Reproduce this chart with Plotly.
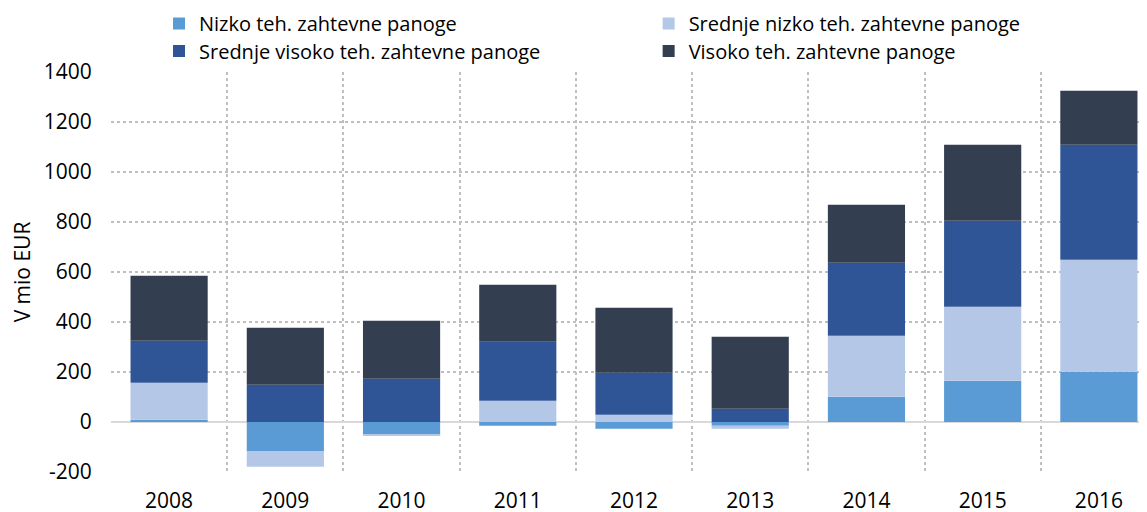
import plotly.graph_objects as go

years = ["2008", "2009", "2010", "2011", "2012", "2013", "2014", "2015", "2016"]
nizko = [9, -118, -51, -15, -27, -15, 101, 165, 201]
srednje_nizko = [148, -61, -4, 85, 29, -12, 244, 296, 448]
srednje_visoko = [168, 149, 173, 236, 168, 53, 292, 344, 460]
visoko = [260, 228, 232, 228, 260, 288, 232, 304, 216]

y_tickvals = [-200, 0, 200, 400, 600, 800, 1000, 1200, 1400]
y_ticktext = ["-200", "0", "200", "400", "600", "800", "1000", "1200", "1400"]

names = ["Nizko teh. zahtevne panoge", "Srednje nizko teh. zahtevne panoge",
         "Srednje visoko teh. zahtevne panoge", "Visoko teh. zahtevne panoge"]
colors = ["#5B9BD5", "#B4C7E7", "#2F5597", "#333F50"]
legends = ["legend", "legend2", "legend3", "legend4"]
series = [nizko, srednje_nizko, srednje_visoko, visoko]

FONT = "Open Sans, Lato, DejaVu Sans, sans-serif"

fig = go.Figure()
for name, vals, col, lg in zip(names, series, colors, legends):
    fig.add_trace(go.Bar(x=years, y=vals, name=name, marker=dict(color=col, line=dict(width=0)),
                         legend=lg, showlegend=True))

leg_common = dict(yref="container", xanchor="left", yanchor="middle", orientation="v",
                  font=dict(size=20), bgcolor="rgba(0,0,0,0)", itemwidth=30)
col1_x, col2_x = 0.0459, 0.514
row1_y, row2_y = 0.9697, 0.916

fig.update_layout(
    showlegend=True,
    barmode="relative",
    bargap=0.336,
    width=1153, height=512,
    margin=dict(l=103, r=4, t=64, b=48, autoexpand=False),
    plot_bgcolor="white", paper_bgcolor="white",
    font=dict(family=FONT, size=21, color="#000000"),
    legend=dict(x=col1_x, y=row1_y, **leg_common),
    legend2=dict(x=col2_x, y=row1_y, **leg_common),
    legend3=dict(x=col1_x, y=row2_y, **leg_common),
    legend4=dict(x=col2_x, y=row2_y, **leg_common),
    xaxis=dict(type="category", tickson="boundaries", showgrid=True, gridcolor="#BFBFBF",
               gridwidth=1.5, griddash="3px,3px", ticks="outside", ticklen=24,
               ticklabelstandoff=14,
               tickcolor="rgba(0,0,0,0)", showline=False, tickfont=dict(size=21)),
    yaxis=dict(range=[-200, 1400], tickvals=y_tickvals, ticktext=y_ticktext,
               showgrid=True, gridcolor="#BFBFBF", gridwidth=1.5, griddash="3px,3px",
               zeroline=True, zerolinecolor="#D9D9D9", zerolinewidth=2,
               ticks="outside", ticklen=14, tickcolor="rgba(0,0,0,0)",
               title=dict(text="V mio EUR", standoff=11, font=dict(size=21)),
               tickfont=dict(size=21), showline=False),
)

fig.write_html("out.html")
